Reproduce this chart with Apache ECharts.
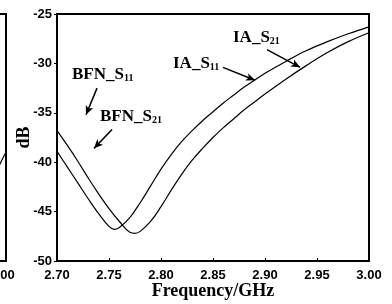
<!DOCTYPE html>
<html><head><meta charset="utf-8">
<script src="https://cdn.jsdelivr.net/npm/echarts@6/dist/echarts.min.js"></script>
<style>html,body{margin:0;padding:0;background:#fff}#c{width:392px;height:304px}</style>
</head><body><div id="c"></div>
<script>
// Main chart data (Frequency in GHz, dB)
const freqA = [2.70,2.71,2.72,2.73,2.74,2.75,2.755,2.76,2.77,2.78,2.79,2.80,2.81,2.82,2.83,2.84,2.85,2.86,2.87,2.88,2.89,2.90,2.92,2.94,2.96,2.98,3.00];
const curveA = [-38.9,-40.5,-42.1,-43.7,-45.2,-46.5,-46.8,-46.6,-45.6,-44.1,-42.4,-40.7,-39.2,-37.9,-36.8,-35.8,-34.9,-34.0,-33.2,-32.4,-31.7,-31.0,-29.8,-28.7,-27.8,-27.0,-26.3];
const freqB = [2.70,2.71,2.72,2.73,2.74,2.75,2.76,2.77,2.775,2.78,2.79,2.80,2.81,2.82,2.83,2.84,2.85,2.86,2.87,2.88,2.89,2.90,2.92,2.94,2.96,2.98,3.00];
const curveB = [-36.8,-38.3,-39.9,-41.6,-43.2,-44.7,-46.0,-47.1,-47.2,-47.0,-46.0,-44.5,-42.8,-41.2,-39.8,-38.6,-37.5,-36.5,-35.6,-34.7,-33.9,-33.1,-31.6,-30.2,-28.9,-27.8,-26.9];
// Neighbouring (cropped) panel: tail of its curve
const freqPrev = [2.97,2.98,2.99,2.995,3.00];
const curvePrev = [-45.0,-43.2,-41.1,-40.0,-39.0];
const xTicks = [2.70,2.75,2.80,2.85,2.90,2.95,3.00];
const yTicks = [-50,-45,-40,-35,-30,-25];
// Annotation arrows [from, to] in data units
const arrows = [
  [[2.7385,-32.5],[2.7279,-35.2]],
  [[2.7529,-36.7],[2.7356,-38.6]],
  [[2.8596,-30.4],[2.8904,-31.7]],
  [[2.9019,-28.6],[2.9337,-30.4]]
];
const pairs = (xs, ys) => xs.map((x,i)=>[x,ys[i]]);

const chart = echarts.init(document.getElementById('c'), null, {renderer:'canvas'});
const tickFont = {color:'#000', fontFamily:'Liberation Sans, Arial, sans-serif', fontSize:13, fontWeight:'bold'};
const serif = 'Liberation Serif, Times New Roman, serif';
function xAxisCfg(grid, showName){
  return {type:'value', gridIndex:grid, min:2.70, max:3.00, interval:0.05,
    axisLine:{show:true, onZero:false, lineStyle:{color:'#000', width:2}},
    axisTick:{show:true, inside:true, length:3, lineStyle:{color:'#000', width:1}},
    splitLine:{show:false},
    axisLabel:Object.assign({margin:8, showMaxLabel:true, showMinLabel:true, formatter:v=>v.toFixed(2)}, tickFont),
    name: showName ? 'Frequency/GHz' : '', nameLocation:'middle', nameGap:21, nameMoveOverlap:false,
    nameTextStyle:{color:'#000', fontFamily:serif, fontSize:18, fontWeight:'bold'}};
}
function yAxisCfg(grid, showName){
  return {type:'value', gridIndex:grid, min:-50, max:-25, interval:5,
    axisLine:{show:true, onZero:false, lineStyle:{color:'#000', width:2}},
    axisTick:{show:true, inside:false, length:3, lineStyle:{color:'#000', width:1}},
    splitLine:{show:false},
    axisLabel:Object.assign({margin:5}, tickFont),
    name: showName ? 'dB' : '', nameLocation:'middle', nameGap:24, nameMoveOverlap:false,
    nameTextStyle:{color:'#000', fontFamily:serif, fontSize:18, fontWeight:'bold'}};
}
function lbl(x, y, main, sub){
  return {type:'text', left:x, top:y, z:100, style:{
    text:'{m|'+main+'}{s|'+sub+'}',
    rich:{
      m:{fontFamily:serif, fontSize:17, fontWeight:'bold', fill:'#000', lineHeight:20, verticalAlign:'bottom'},
      s:{fontFamily:serif, fontSize:10, fontWeight:'bold', fill:'#000', lineHeight:10, verticalAlign:'bottom'}
    }}};
}
const prevX = xAxisCfg(1,false);
prevX.axisLabel.padding = [0,8,0,0];
const option = {
  animation:false,
  backgroundColor:'#fff',
  grid:[
    {left:57, top:14, width:312, height:247, show:true, borderColor:'#000', borderWidth:2, backgroundColor:'transparent', outerBoundsMode:'none', containLabel:false},
    {left:-306, top:14, width:312, height:247, show:true, borderColor:'#000', borderWidth:2, backgroundColor:'transparent', outerBoundsMode:'none', containLabel:false}
  ],
  xAxis:[xAxisCfg(0,true), prevX],
  yAxis:[yAxisCfg(0,true), Object.assign(yAxisCfg(1,false),{axisLabel:{show:false}})],
  series:[
    {type:'line', name:'S11', xAxisIndex:0, yAxisIndex:0, data:pairs(freqA,curveA), smooth:0.4, showSymbol:false,
     lineStyle:{color:'#000', width:1.2},
     markLine:{silent:true, symbol:['none','arrow'], symbolSize:[6,9], label:{show:false},
       lineStyle:{color:'#000', width:1.5, type:'solid'},
       data: arrows.map(a=>[{coord:a[0]},{coord:a[1]}])}},
    {type:'line', name:'S21', xAxisIndex:0, yAxisIndex:0, data:pairs(freqB,curveB), smooth:0.4, showSymbol:false,
     lineStyle:{color:'#000', width:1.2}},
    {type:'line', name:'prev', xAxisIndex:1, yAxisIndex:1, data:pairs(freqPrev,curvePrev), smooth:0.3, showSymbol:false,
     lineStyle:{color:'#000', width:1.2}}
  ],
  graphic:[
    lbl(72, 66, 'BFN_S', '11'),
    lbl(100, 108, 'BFN_S', '21'),
    lbl(173, 55, 'IA_S', '11'),
    lbl(233, 29, 'IA_S', '21')
  ]
};
chart.setOption(option);
</script>
</body></html>
